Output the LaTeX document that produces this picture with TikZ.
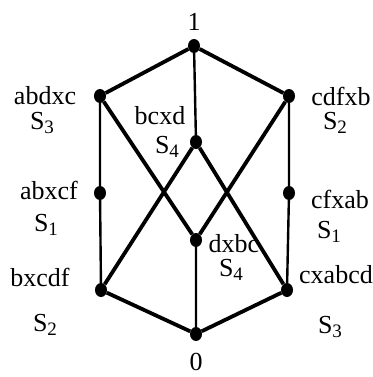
\documentclass[tikz,border=0pt]{standalone}
\usepackage{fontspec}
\setmainfont{Liberation Serif}
\usetikzlibrary{shapes.geometric}

\newcommand{\sname}[1]{S\raisebox{-0.3ex}{\fontsize{19}{19}\selectfont #1}}

\begin{document}
\begin{tikzpicture}[x=1pt, y=-1pt,
    vtx/.style={ellipse, fill=black, inner sep=0pt, minimum width=12pt, minimum height=14pt},
    lbl/.style={inner sep=0pt, font=\fontsize{26}{28}\selectfont},
    thick edge/.style={line width=3.8pt},
    thin edge/.style={line width=2.4pt}]
   \useasboundingbox (0,0) rectangle (372,377);

   % vertices of the lattice
   \node[vtx] (top) at (194,46) {};
   \node[vtx] (l1) at (100,96) {};
   \node[vtx] (r1) at (289,96) {};
   \node[vtx] (m1) at (196,142) {};
   \node[vtx] (l2) at (100,193) {};
   \node[vtx] (r2) at (289,193) {};
   \node[vtx] (m2) at (196,240) {};
   \node[vtx] (l3) at (101,290) {};
   \node[vtx] (r3) at (287,290) {};
   \node[vtx] (bot) at (196,334) {};

   % labels
   \node[lbl] (t1) at (194,22) {1};
   \node[lbl] (t0) at (196,362) {0};
   \node[lbl] (tl1) at (45,96) {abdxc};
   \node[lbl] (sl1) at (42,123) {\sname{3}};
   \node[lbl] (tr1) at (341,96) {cdfxb};
   \node[lbl] (sr1) at (335,123) {\sname{2}};
   \node[lbl] (tm1) at (160,116) {bcxd};
   \node[lbl] (sm1) at (167,147) {\sname{4}};
   \node[lbl] (tl2) at (49,190) {abxcf};
   \node[lbl] (sl2) at (46,225) {\sname{1}};
   \node[lbl] (tr2) at (340,199) {cfxab};
   \node[lbl] (sr2) at (329,232) {\sname{1}};
   \node[lbl] (tm2) at (234,244) {dxbc};
   \node[lbl] (sm2) at (231,270) {\sname{4}};
   \node[lbl] (tl3) at (40,277) {bxcdf};
   \node[lbl] (sl3) at (45,325) {\sname{2}};
   \node[lbl] (tr3) at (336,275) {cxabcd};
   \node[lbl] (sr3) at (330,327) {\sname{3}};

   % edges
   \draw[thick edge] (top) -- (l1) (top) -- (r1)
      (l1) -- (m2) (r1) -- (m2)
      (m1) -- (l3) (m1) -- (r3)
      (l3) -- (bot) (r3) -- (bot);
   \draw[thin edge] (top) -- (m1)
      (l1) -- (l2) -- (l3)
      (r1) -- (r2) -- (r3)
      (m2) -- (bot);
\end{tikzpicture}
\end{document}
